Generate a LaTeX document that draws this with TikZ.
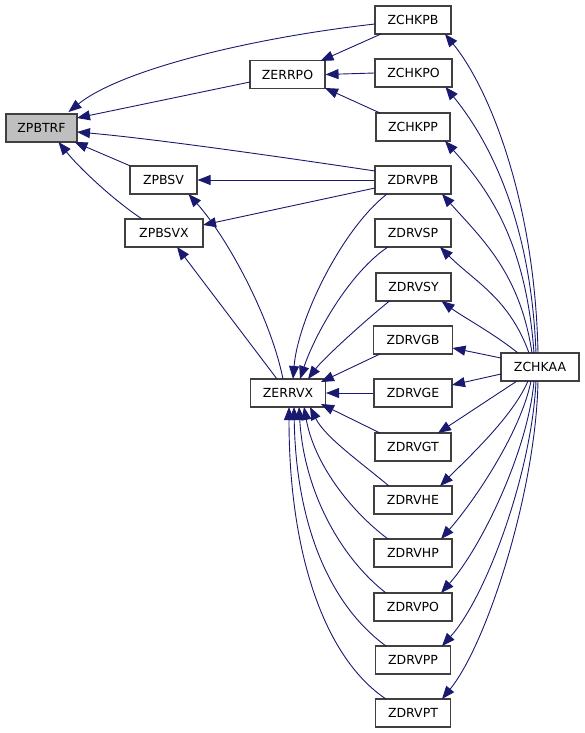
\documentclass[tikz,border=0pt]{standalone}
\usepackage{fontspec}
\setmainfont{DejaVu Sans}
\usetikzlibrary{arrows.meta,calc}
\definecolor{edgeblue}{HTML}{191970}
\definecolor{boxline}{HTML}{404040}
\begin{document}
\begin{tikzpicture}[x=1pt,y=-1pt,
  box/.style={draw=boxline, line width=1.1pt, fill=white, minimum height=28pt, inner sep=0pt, font=\fontsize{12.5}{14}\selectfont},
  edge/.style={draw=edgeblue, line width=0.9pt, -{Triangle[length=13pt,width=10pt,fill=edgeblue]}}]
\useasboundingbox (0,0) rectangle (584,733);
% nodes
\node[box, fill=black!25, minimum width=71pt] (pbtrf) at (41.5,128) {ZPBTRF};
\node[box, minimum width=75pt] (errpo) at (287.5,74.5) {ZERRPO};
\node[box, minimum width=76pt] (chkpb) at (413,20) {ZCHKPB};
\node[box, minimum width=77pt] (chkpo) at (413.5,73) {ZCHKPO};
\node[box, minimum width=74pt] (chkpp) at (413,127) {ZCHKPP};
\node[box, minimum width=76pt] (drvpb) at (413,180) {ZDRVPB};
\node[box, minimum width=76pt] (drvsp) at (413,233) {ZDRVSP};
\node[box, minimum width=75pt] (drvsy) at (413.5,287) {ZDRVSY};
\node[box, minimum width=79pt] (drvgb) at (413,340) {ZDRVGB};
\node[box, minimum width=78pt] (drvge) at (413,393) {ZDRVGE};
\node[box, minimum width=76pt] (drvgt) at (413,447) {ZDRVGT};
\node[box, minimum width=78pt] (drvhe) at (413,500) {ZDRVHE};
\node[box, minimum width=78pt] (drvhp) at (413,553) {ZDRVHP};
\node[box, minimum width=78pt] (drvpo) at (413,607) {ZDRVPO};
\node[box, minimum width=75pt] (drvpp) at (413,660) {ZDRVPP};
\node[box, minimum width=75pt] (drvpt) at (413,713) {ZDRVPT};
\node[box, minimum width=78pt] (chkaa) at (540,367) {ZCHKAA};
\node[box, minimum width=75pt] (errvx) at (288,393) {ZERRVX};
\node[box, minimum width=67pt] (pbsv) at (163.5,180) {ZPBSV};
\node[box, minimum width=78pt] (pbsvx) at (164,233) {ZPBSVX};
% edges into ZPBTRF
\draw[edge] ($(chkpb)+(-38,4)$) .. controls +(-125,14) and +(52,-42) .. ($(pbtrf)+(27,-16)$);
\draw[edge] ($(errpo)+(-37.5,7.5)$) -- ($(pbtrf)+(35.5,-10)$);
\draw[edge] ($(drvpb)+(-38,-9)$) .. controls +(-80,-12) and +(80,7) .. ($(pbtrf)+(35.5,4)$);
\draw[edge] ($(pbsv)+(-33,-14)$) -- ($(pbtrf)+(33,14)$);
\draw[edge] ($(pbsvx)+(-22,-14)$) .. controls +(-30,-20) and +(20,25) .. ($(pbtrf)+(17,14)$);
% edges into ZERRPO
\draw[edge] ($(chkpb)+(-32,14)$) -- ($(errpo)+(33,-13.5)$);
\draw[edge] (chkpo.west) -- (errpo.east);
\draw[edge] ($(chkpp)+(-33,-14)$) -- ($(errpo)+(37.5,13.5)$);
% edges into ZPBSV / ZPBSVX
\draw[edge] (drvpb.west) -- (pbsv.east);
\draw[edge] ($(drvpb)+(-38,8)$) -- ($(pbsvx)+(39,-8)$);
\draw[edge] ($(errvx)+(-5,-14)$) .. controls +(-12,-60) and +(40,45) .. ($(pbsv)+(25,14)$);
\draw[edge] ($(errvx)+(-11,-14)$) -- ($(pbsvx)+(13,14)$);
% edges into ZERRVX
\draw[edge] ($(drvpb)+(-26,14)$) .. controls +(-45,35) and +(5,-60) .. ($(errvx)+(5,-14)$);
\draw[edge] ($(drvsp)+(-25,14)$) .. controls +(-38,25) and +(15,-45) .. ($(errvx)+(12,-14)$);
\draw[edge] ($(drvsy)+(-24,14)$) .. controls +(-25,20) and +(15,-20) .. ($(errvx)+(20,-14)$);
\draw[edge] ($(drvgb)+(-33,14)$) -- ($(errvx)+(33,-11)$);
\draw[edge] (drvge.west) -- (errvx.east);
\draw[edge] ($(drvgt)+(-33,-14)$) -- ($(errvx)+(33,11)$);
\draw[edge] ($(drvhe)+(-24,-14)$) .. controls +(-30,-25) and +(15,30) .. ($(errvx)+(22,14)$);
\draw[edge] ($(drvhp)+(-25,-14)$) .. controls +(-40,-30) and +(10,55) .. ($(errvx)+(16,14)$);
\draw[edge] ($(drvpo)+(-27,-14)$) .. controls +(-45,-35) and +(5,85) .. ($(errvx)+(11,14)$);
\draw[edge] ($(drvpp)+(-27,-14)$) .. controls +(-55,-40) and +(2,120) .. ($(errvx)+(6,14)$);
\draw[edge] ($(drvpt)+(-27,-14)$) .. controls +(-60,-40) and +(0,150) .. ($(errvx)+(1,14)$);
% edges from ZCHKAA
\draw[edge] ($(chkaa)+(-2,-14)$) .. controls +(-3,-150) and +(45,55) .. ($(chkpb)+(32,14)$);
\draw[edge] ($(chkaa)+(-4,-14)$) .. controls +(-5,-130) and +(45,55) .. ($(chkpo)+(32,14)$);
\draw[edge] ($(chkaa)+(-6,-14)$) .. controls +(-8,-110) and +(45,50) .. ($(chkpp)+(32,14)$);
\draw[edge] ($(chkaa)+(-8,-14)$) .. controls +(-12,-80) and +(40,45) .. ($(drvpb)+(29,14)$);
\draw[edge] ($(chkaa)+(-11,-14)$) .. controls +(-20,-55) and +(35,35) .. ($(drvsp)+(27,14)$);
\draw[edge] ($(chkaa)+(-22,-14)$) .. controls +(-25,-20) and +(20,15) .. ($(drvsy)+(28,14)$);
\draw[edge] ($(chkaa)+(-39,-9)$) -- ($(drvgb)+(39.5,8)$);
\draw[edge] ($(chkaa)+(-39,7)$) -- ($(drvge)+(39,-8)$);
\draw[edge] ($(chkaa)+(-23,14)$) -- ($(drvgt)+(25,-14)$);
\draw[edge] ($(chkaa)+(-12,14)$) .. controls +(-15,35) and +(30,-30) .. ($(drvhe)+(27,-14)$);
\draw[edge] ($(chkaa)+(-9,14)$) .. controls +(-10,50) and +(35,-40) .. ($(drvhp)+(28,-14)$);
\draw[edge] ($(chkaa)+(-6,14)$) .. controls +(-6,70) and +(40,-45) .. ($(drvpo)+(28,-14)$);
\draw[edge] ($(chkaa)+(-4,14)$) .. controls +(-4,90) and +(45,-50) .. ($(drvpp)+(29,-14)$);
\draw[edge] ($(chkaa)+(-2,14)$) .. controls +(-2,110) and +(45,-55) .. ($(drvpt)+(29,-14)$);
\end{tikzpicture}
\end{document}
